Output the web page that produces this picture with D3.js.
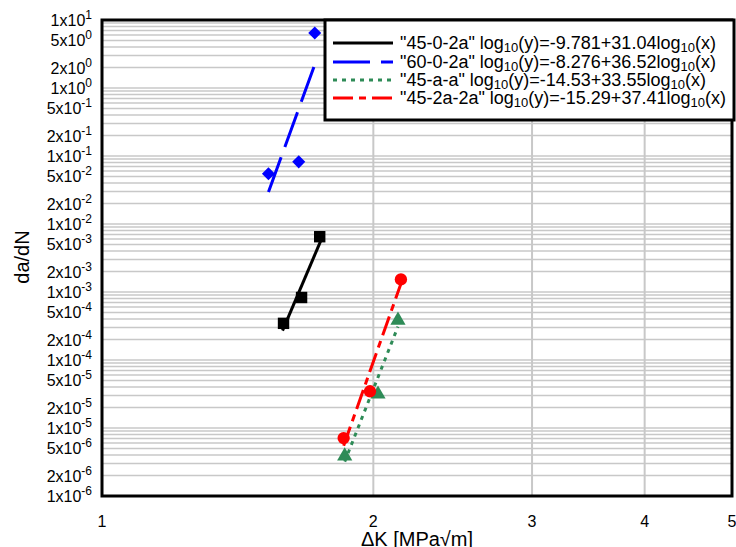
<!DOCTYPE html>
<html>
<head>
<meta charset="utf-8">
<script src="https://cdn.jsdelivr.net/npm/d3@7"></script>
<style>
  body { margin: 0; background: #fff; }
  svg { display: block; font-family: Arial, "Liberation Sans", sans-serif; }
</style>
</head>
<body>
<script>
const width = 736;
const height = 547;
const margin = { top: 20, right: 4, bottom: 51, left: 102 };

// data
const seriesNames = ['"45-0-2a"', '"60-0-2a"', '"45-a-a"', '"45-2a-2a"'];
const fitText = [
  ["-9.781+31.04"],
  ["-8.276+36.52"],
  ["-14.53+33.55"],
  ["-15.29+37.41"]
];
const xBlack = [1.590, 1.665, 1.744];
const yBlack = [3.46e-4, 8.3e-4, 6.5e-3];
const xBlue = [1.530, 1.653, 1.722];
const yBlue = [0.055, 0.082, 6.45];
const xGreen = [1.859, 2.024, 2.130];
const yGreen = [3.86e-6, 3.14e-5, 3.83e-4];
const xRed = [1.854, 1.983, 2.146];
const yRed = [7.1e-6, 3.47e-5, 1.53e-3];
// fit line end points
const fitBlack = [[1.586, 2.7e-4], [1.748, 5.6e-3]];
const fitBlue = [[1.530, 0.0295], [1.722, 2.2]];
const fitGreen = [[1.859, 3.2e-6], [2.130, 3.1e-4]];
const fitRed = [[1.854, 5.5e-6], [2.146, 1.32e-3]];

const xTicks = [1, 2, 3, 4, 5];
const yExps = [-6, -5, -4, -3, -2, -1, 0];
const yMant = [1, 2, 5];

const series = [
  { name: seriesNames[0], fit: fitText[0], xs: xBlack, ys: yBlack, line: fitBlack, color: "#000000", dash: null, marker: "square" },
  { name: seriesNames[1], fit: fitText[1], xs: xBlue, ys: yBlue, line: fitBlue, color: "#0000ff", dash: "37,11", marker: "diamond" },
  { name: seriesNames[2], fit: fitText[2], xs: xGreen, ys: yGreen, line: fitGreen, color: "#2e8b57", dash: "4,5", marker: "triangle" },
  { name: seriesNames[3], fit: fitText[3], xs: xRed, ys: yRed, line: fitRed, color: "#ff0000", dash: "20,6,7,6", marker: "circle" }
];

const svg = d3.select("body").append("svg")
  .attr("width", width)
  .attr("height", height);

const x = d3.scaleLog().domain([1, 5]).range([margin.left, width - margin.right]);
const y = d3.scaleLog().domain([1e-6, 1e1]).range([height - margin.bottom, margin.top]);

// horizontal grid at every 1..9 x 10^n
const yGrid = [];
yExps.forEach(e => { for (let m = 1; m <= 9; m++) yGrid.push(m * Math.pow(10, e)); });
yGrid.push(10);

svg.append("g").selectAll("line")
  .data(yGrid)
  .join("line")
  .attr("x1", x(1)).attr("x2", x(5))
  .attr("y1", d => y(d)).attr("y2", d => y(d))
  .attr("stroke", "#c8c8c8")
  .attr("stroke-width", 1.5);

svg.append("g").selectAll("line")
  .data(xTicks.slice(1, -1))
  .join("line")
  .attr("x1", d => x(d)).attr("x2", d => x(d))
  .attr("y1", y(1e1)).attr("y2", y(1e-6))
  .attr("stroke", "#c8c8c8")
  .attr("stroke-width", 2);

// fit lines
svg.append("g").selectAll("line")
  .data(series)
  .join("line")
  .attr("x1", d => x(d.line[0][0])).attr("y1", d => y(d.line[0][1]))
  .attr("x2", d => x(d.line[1][0])).attr("y2", d => y(d.line[1][1]))
  .attr("stroke", d => d.color)
  .attr("stroke-width", 3)
  .attr("stroke-dasharray", d => d.dash);

// markers
const symbolType = { square: d3.symbolSquare, diamond: d3.symbolSquare, triangle: d3.symbolTriangle, circle: d3.symbolCircle };
const symbolSize = { square: 130, diamond: 85, triangle: 100, circle: 120 };
series.forEach(s => {
  svg.append("g").selectAll("path")
    .data(s.xs.map((v, i) => [v, s.ys[i]]))
    .join("path")
    .attr("transform", d => `translate(${x(d[0])},${y(d[1])})` + (s.marker == "diamond" ? " rotate(45)" : ""))
    .attr("d", d3.symbol().type(symbolType[s.marker]).size(symbolSize[s.marker]))
    .attr("fill", s.color);
});

// plot border
svg.append("rect")
  .attr("x", x(1)).attr("y", y(1e1))
  .attr("width", x(5) - x(1)).attr("height", y(1e-6) - y(1e1))
  .attr("fill", "none")
  .attr("stroke", "#000")
  .attr("stroke-width", 3);

// y tick labels
const yLabels = [];
yExps.forEach(e => yMant.forEach(m => yLabels.push([m, e])));
yLabels.push([1, 1]);
const yl = svg.append("g").selectAll("text")
  .data(yLabels)
  .join("text")
  .attr("x", margin.left - 10)
  .attr("y", d => y(d[0] * Math.pow(10, d[1])) + 6)
  .attr("text-anchor", "end")
  .attr("font-size", 16)
  .attr("fill", "#000");
yl.append("tspan").text(d => d[0] + "x10");
yl.append("tspan").attr("dy", -7).attr("font-size", 12).text(d => d[1]);

// x tick labels
svg.append("g").selectAll("text")
  .data(xTicks)
  .join("text")
  .attr("x", d => x(d))
  .attr("y", 527)
  .attr("text-anchor", "middle")
  .attr("font-size", 16)
  .text(d => d);

// axis titles
svg.append("text")
  .attr("x", 417).attr("y", 546)
  .attr("text-anchor", "middle")
  .attr("font-size", 20)
  .text("ΔK [MPa√m]");

svg.append("text")
  .attr("transform", "translate(29,257) rotate(-90)")
  .attr("text-anchor", "middle")
  .attr("font-size", 20)
  .text("da/dN");

// legend
const lg = svg.append("g");
lg.append("rect")
  .attr("x", 325).attr("y", 20)
  .attr("width", 409).attr("height", 100)
  .attr("fill", "#fff")
  .attr("stroke", "#000")
  .attr("stroke-width", 3);

const rowY = [43, 62, 80, 98];
series.forEach((s, i) => {
  lg.append("line")
    .attr("x1", 333).attr("x2", 393)
    .attr("y1", rowY[i]).attr("y2", rowY[i])
    .attr("stroke", s.color)
    .attr("stroke-width", 3)
    .attr("stroke-dasharray", s.dash);
  const t = lg.append("text")
    .attr("x", 400).attr("y", rowY[i] + 6)
    .attr("font-size", 18);
  t.append("tspan").text(s.name + " log");
  t.append("tspan").attr("dy", 3).attr("font-size", 13).text("10");
  t.append("tspan").attr("dy", -3).text("(y)=" + s.fit + "log");
  t.append("tspan").attr("dy", 3).attr("font-size", 13).text("10");
  t.append("tspan").attr("dy", -3).text("(x)");
});
</script>
</body>
</html>
